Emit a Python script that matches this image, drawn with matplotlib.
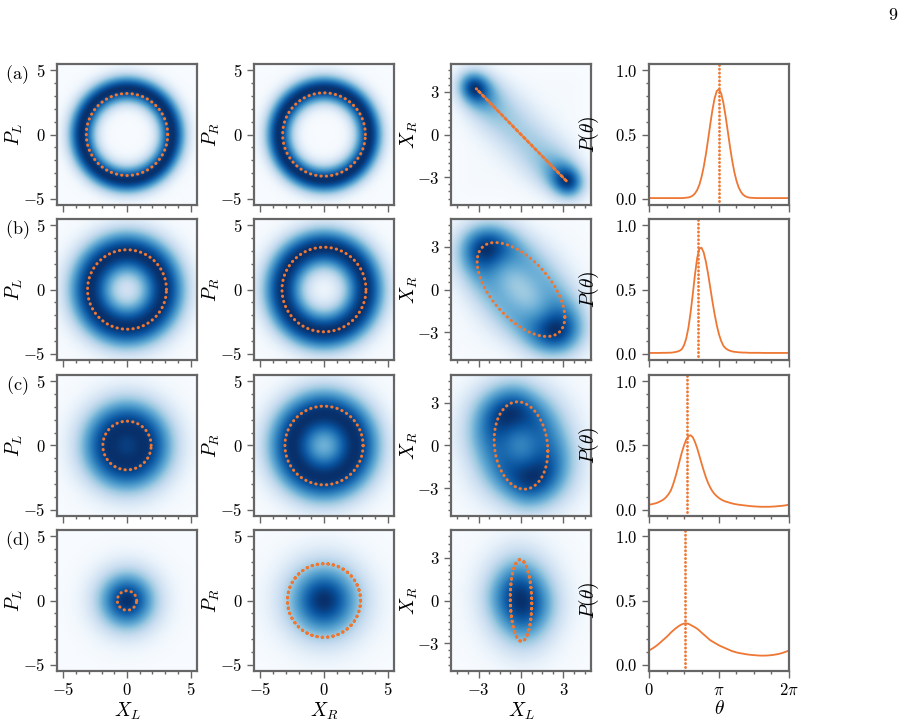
import numpy as np
import matplotlib
matplotlib.use("Agg")
import matplotlib.pyplot as plt
from matplotlib.ticker import MultipleLocator, FixedLocator, FixedFormatter

plt.rcParams['mathtext.fontset'] = 'cm'
plt.rcParams['font.family'] = 'serif'
plt.rcParams['font.serif'] = ['DejaVu Serif']

# ---------------- data ----------------
row_labels = [r'$\mathrm{(a)}$', r'$\mathrm{(b)}$', r'$\mathrm{(c)}$', r'$\mathrm{(d)}$']
col_ylabels = [r'$P_L$', r'$P_R$', r'$X_R$', r'$P(\theta)$']
col_xlabels = [r'$X_L$', r'$X_R$', r'$X_L$', r'$\theta$']

# sample positions (theta = k*pi/32) at which P(theta) was read
theta_samples = np.arange(65) * np.pi / 32
P_a = [0.004, 0.004, 0.004, 0.004, 0.004, 0.004, 0.004, 0.004, 0.004, 0.004,
       0.004, 0.004, 0.004, 0.004, 0.004, 0.004, 0.005, 0.007, 0.009, 0.014,
       0.023, 0.040, 0.066, 0.107, 0.167, 0.246, 0.345, 0.459, 0.579, 0.692,
       0.783, 0.840, 0.853, 0.820, 0.747, 0.644, 0.527, 0.407, 0.299, 0.208,
       0.138, 0.087, 0.053, 0.031, 0.018, 0.011, 0.007, 0.006, 0.005, 0.004,
       0.004, 0.004, 0.004, 0.004, 0.004, 0.004, 0.004, 0.004, 0.004, 0.004,
       0.004, 0.004, 0.004, 0.004, 0.004]
P_b = [0.005, 0.005, 0.005, 0.005, 0.005, 0.005, 0.006, 0.006, 0.006, 0.007,
       0.007, 0.009, 0.012, 0.016, 0.022, 0.035, 0.064, 0.117, 0.200, 0.318,
       0.461, 0.615, 0.744, 0.819, 0.826, 0.789, 0.717, 0.623, 0.516, 0.407,
       0.307, 0.220, 0.150, 0.098, 0.061, 0.042, 0.030, 0.022, 0.017, 0.014,
       0.012, 0.010, 0.009, 0.008, 0.008, 0.007, 0.006, 0.006, 0.006, 0.006,
       0.006, 0.006, 0.005, 0.005, 0.005, 0.005, 0.005, 0.005, 0.005, 0.005,
       0.005, 0.005, 0.005, 0.005, 0.005]
P_c = [0.039, 0.041, 0.045, 0.049, 0.055, 0.063, 0.072, 0.084, 0.100, 0.122,
       0.150, 0.195, 0.250, 0.312, 0.380, 0.445, 0.500, 0.545, 0.572, 0.580,
       0.565, 0.528, 0.480, 0.422, 0.362, 0.305, 0.252, 0.208, 0.172, 0.143,
       0.121, 0.104, 0.090, 0.079, 0.070, 0.063, 0.058, 0.053, 0.048, 0.044,
       0.041, 0.038, 0.036, 0.034, 0.032, 0.030, 0.028, 0.026, 0.025, 0.024,
       0.023, 0.022, 0.022, 0.022, 0.022, 0.022, 0.023, 0.024, 0.025, 0.027,
       0.028, 0.030, 0.032, 0.035, 0.039]
P_d = [0.110, 0.120, 0.130, 0.142, 0.155, 0.170, 0.185, 0.200, 0.215, 0.232,
       0.250, 0.265, 0.280, 0.293, 0.305, 0.314, 0.320, 0.322, 0.318, 0.310,
       0.300, 0.291, 0.280, 0.266, 0.250, 0.235, 0.220, 0.205, 0.190, 0.180,
       0.170, 0.160, 0.150, 0.142, 0.135, 0.127, 0.120, 0.112, 0.105, 0.100,
       0.095, 0.091, 0.088, 0.085, 0.082, 0.079, 0.077, 0.075, 0.074, 0.072,
       0.071, 0.070, 0.070, 0.070, 0.071, 0.072, 0.074, 0.076, 0.079, 0.082,
       0.086, 0.091, 0.097, 0.103, 0.110]
P_rows = [P_a, P_b, P_c, P_d]

locked_phase = [1.0, 0.70, 0.54, 0.52]      # vertical dotted line, units of pi
orbit_L = [3.2, 3.1, 1.9, 0.76]             # orange orbit radius, left mode
orbit_R = [3.25, 3.3, 3.07, 2.87]           # orange orbit radius, right mode
orbit_turns = [1, 1, 1, 2]

ampL_mean = [3.65, 3.0, 1.6, 0.0]
ampL_spread = [0.15, 1.0, 1.4, 1.45]
ampR_mean = [3.65, 3.35, 2.6, 0.0]
ampR_spread = [0.15, 0.85, 1.25, 1.9]
noise_width = 0.75

ticks_quad = [-5, 0, 5]
ticks_x = [-3, 0, 3]
ticks_theta = [0, np.pi, 2 * np.pi]
ticklabels_theta = [r'$0$', r'$\pi$', r'$2\pi$']
ticks_prob = [0.0, 0.5, 1.0]

# ---------------- style ----------------
ORANGE = '#EE7733'
SPINE = '#666666'
DOT = (0, (0.1, 1.65))
TICK_FS = 12
LABEL_FS = 14

fig = plt.figure(figsize=(9.15, 7.24), dpi=100)
W, H = 915.0, 724.0
col_left = [57, 254, 451, 649]
row_top = [64, 219, 375, 530]
aw, ah = 140, 141
ylabel_x = [-0.23, -0.23, -0.22, -0.34]

lim_quad = (-5.5, 5.5)
lim_x = (-4.95, 4.95)

g1 = np.linspace(lim_quad[0], lim_quad[1], 221)
g3 = np.linspace(lim_x[0], lim_x[1], 201)
nphi = 128
phi = np.arange(nphi) * 2 * np.pi / nphi
amp = np.arange(0.0, 8.0, 0.05)


def amp_weights(mean, spread):
    w = amp * np.exp(-(amp - mean) ** 2 / (2 * spread ** 2))
    return w / w.sum()


def gauss(u, c):
    return np.exp(-(u[None, :] - c[:, None]) ** 2 / (2 * noise_width ** 2))


def phase_space(mean, spread, grid):
    w = amp_weights(mean, spread)
    keep = w > 1e-6 * w.max()
    a = amp[keep]; w = w[keep]
    cx = (a[:, None] * np.cos(phi)[None, :]).ravel()
    cy = (a[:, None] * np.sin(phi)[None, :]).ravel()
    ww = np.repeat(w, nphi)
    Gx = gauss(grid, cx) * ww[:, None]
    Gy = gauss(grid, cy)
    return (Gx.T @ Gy).T  # [y, x]


def marginal_x(mean, spread, grid):
    w = amp_weights(mean, spread)
    keep = w > 1e-6 * w.max()
    a = amp[keep]; w = w[keep]
    out = np.zeros((nphi, grid.size))
    for ai, wi in zip(a, w):
        out += wi * gauss(grid, ai * np.cos(phi))
    return out


def joint_xx(r):
    FL = marginal_x(ampL_mean[r], ampL_spread[r], g3)
    FR = marginal_x(ampR_mean[r], ampR_spread[r], g3)
    D = np.zeros((g3.size, g3.size))
    nth = len(P_rows[r]) - 1
    step = nphi // nth
    for j, pj in enumerate(P_rows[r][:nth]):
        D += pj * (FL.T @ np.roll(FR, -j * step, axis=0))
    return D.T  # [y, x]


def style_axes(ax, bottom_labels):
    for s in ax.spines.values():
        s.set_color(SPINE)
        s.set_linewidth(1.6)
    ax.tick_params(which='both', direction='out', color=SPINE, width=1.0,
                   labelsize=TICK_FS, top=False, right=False,
                   labelbottom=bottom_labels, pad=3)
    ax.tick_params(which='major', length=5)
    ax.tick_params(which='minor', length=2.5)


for r in range(4):
    for c in range(4):
        x0 = col_left[c] / W
        y0 = 1 - (row_top[r] + ah) / H
        ax = fig.add_axes([x0, y0, aw / W, ah / H])
        bottom = (r == 3)
        turns = orbit_turns[r] if c in (1, 2) else 1
        tt = np.linspace(0, 2 * np.pi * turns, 600 * turns)
        if c in (0, 1):
            if c == 0:
                img = phase_space(ampL_mean[r], ampL_spread[r], g1)
                rad = orbit_L[r]
            else:
                img = phase_space(ampR_mean[r], ampR_spread[r], g1)
                rad = orbit_R[r]
            ax.imshow(img, origin='lower', extent=[*lim_quad, *lim_quad],
                      cmap='Blues', vmin=0, vmax=img.max(), aspect='auto',
                      interpolation='bilinear')
            ax.plot(rad * np.cos(tt), rad * np.sin(tt), color=ORANGE, lw=2.2,
                    linestyle=DOT, dash_capstyle='round')
            ax.set_xlim(lim_quad); ax.set_ylim(lim_quad)
            ax.xaxis.set_major_locator(FixedLocator(ticks_quad))
            ax.yaxis.set_major_locator(FixedLocator(ticks_quad))
            ax.xaxis.set_major_formatter(FixedFormatter([f'${v}$' for v in ticks_quad]))
            ax.yaxis.set_major_formatter(FixedFormatter([f'${v}$' for v in ticks_quad]))
            ax.xaxis.set_minor_locator(MultipleLocator(1))
            ax.yaxis.set_minor_locator(MultipleLocator(1))
        elif c == 2:
            img = joint_xx(r)
            ax.imshow(img, origin='lower', extent=[*lim_x, *lim_x],
                      cmap='Blues', vmin=0, vmax=img.max(), aspect='auto',
                      interpolation='bilinear')
            th0 = locked_phase[r] * np.pi
            ax.plot(orbit_L[r] * np.cos(tt), orbit_R[r] * np.cos(tt + th0),
                    color=ORANGE, lw=2.2, linestyle=DOT, dash_capstyle='round')
            ax.set_xlim(lim_x); ax.set_ylim(lim_x)
            ax.xaxis.set_major_locator(FixedLocator(ticks_x))
            ax.yaxis.set_major_locator(FixedLocator(ticks_x))
            ax.xaxis.set_major_formatter(FixedFormatter([f'${v}$' for v in ticks_x]))
            ax.yaxis.set_major_formatter(FixedFormatter([f'${v}$' for v in ticks_x]))
            ax.xaxis.set_minor_locator(MultipleLocator(0.75))
            ax.yaxis.set_minor_locator(MultipleLocator(0.5))
        else:
            ax.plot(theta_samples, P_rows[r], color=ORANGE, lw=1.3)
            ax.axvline(locked_phase[r] * np.pi, color=ORANGE, lw=2.0,
                       linestyle=(0, (0.1, 1.3)), dash_capstyle='round')
            ax.set_xlim(0, 2 * np.pi); ax.set_ylim(-0.05, 1.05)
            ax.xaxis.set_major_locator(FixedLocator(ticks_theta))
            ax.xaxis.set_major_formatter(FixedFormatter(ticklabels_theta))
            ax.yaxis.set_major_locator(FixedLocator(ticks_prob))
            ax.yaxis.set_major_formatter(FixedFormatter([f'${v:.1f}$' for v in ticks_prob]))
            ax.xaxis.set_minor_locator(MultipleLocator(np.pi / 4))
            ax.yaxis.set_minor_locator(MultipleLocator(0.1))
        style_axes(ax, bottom)
        ax.set_ylabel(col_ylabels[c], fontsize=LABEL_FS)
        ax.yaxis.set_label_coords(ylabel_x[c], 0.5)
        if bottom:
            ax.set_xlabel(col_xlabels[c], fontsize=LABEL_FS, labelpad=1)
    fig.text(17 / W, 1 - (row_top[r] + 11) / H, row_labels[r], fontsize=13,
             ha='center', va='center')

fig.text(893 / W, 1 - 15 / H, r'$9$', fontsize=13, ha='center', va='center')

fig.savefig('out.png', dpi=100)
